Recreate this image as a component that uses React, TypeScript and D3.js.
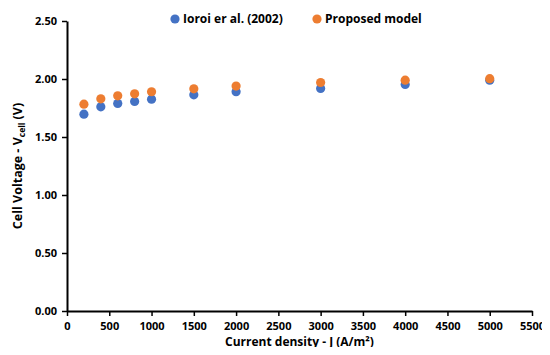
import React, { useEffect, useRef } from 'react';
import * as d3 from 'd3';

const currentDensity = [200, 400, 600, 800, 1000, 1500, 2000, 3000, 4000, 5000];
const ioroiVoltage = [1.697, 1.76, 1.789, 1.807, 1.826, 1.864, 1.89, 1.919, 1.953, 1.99];
const modelVoltage = [1.783, 1.829, 1.855, 1.872, 1.89, 1.915, 1.939, 1.97, 1.99, 2.003];
const seriesNames = ['Ioroi er al. (2002)', 'Proposed model'];
const seriesColors = ['#4472C4', '#ED7D31'];
const xTicks = d3.range(0, 5501, 500);
const yTicks = [0, 0.5, 1, 1.5, 2, 2.5];

const W = 550;
const H = 355;

export default function App() {
  const ref = useRef<SVGSVGElement>(null);

  useEffect(() => {
    const margin = { top: 21, right: 18, bottom: 44, left: 67 };
    const width = W - margin.left - margin.right;
    const height = H - margin.top - margin.bottom;

    const svg = d3.select(ref.current);
    svg.selectAll('*').remove();
    const font = "'Open Sans', sans-serif";

    const x = d3.scaleLinear().domain([0, 5500]).range([0, width]);
    const y = d3.scaleLinear().domain([0, 2.5]).range([height, 0]);

    const g = svg.append('g').attr('transform', `translate(${margin.left},${margin.top})`);

    // x axis
    const xa = g.append('g')
      .attr('transform', `translate(0,${height})`)
      .call(d3.axisBottom(x).tickValues(xTicks).tickSize(5).tickSizeOuter(0).tickPadding(6).tickFormat(d3.format('d')));
    // y axis
    const ya = g.append('g')
      .call(d3.axisLeft(y).tickValues(yTicks).tickSize(5).tickSizeOuter(0).tickPadding(5).tickFormat(d3.format('.2f')));

    [xa, ya].forEach(a => {
      a.select('.domain').attr('stroke', '#000').attr('stroke-width', 2);
      a.selectAll('.tick line').attr('stroke', '#000').attr('stroke-width', 1.5);
      a.selectAll('.tick text')
        .attr('fill', '#000')
        .style('font-family', font)
        .style('font-weight', 'bold')
        .style('font-size', '11px');
    });

    const series = [ioroiVoltage, modelVoltage];
    series.forEach((vals, si) => {
      g.append('g').selectAll('circle')
        .data(vals)
        .enter().append('circle')
        .attr('cx', (d, i) => x(currentDensity[i]))
        .attr('cy', d => y(d))
        .attr('r', 4.6)
        .attr('fill', seriesColors[si]);
    });

    // legend
    const legendX = [175, 317];
    seriesNames.forEach((name, i) => {
      const lg = svg.append('g').attr('transform', `translate(${legendX[i]},19)`);
      lg.append('circle').attr('r', 4.6).attr('fill', seriesColors[i]);
      lg.append('text')
        .attr('x', 8)
        .attr('dy', '0.35em')
        .style('font-family', font)
        .style('font-weight', 'bold')
        .style('font-size', '12px')
        .text(name);
    });

    // axis titles
    svg.append('text')
      .attr('x', margin.left + width / 2)
      .attr('y', 346)
      .attr('text-anchor', 'middle')
      .style('font-family', font)
      .style('font-weight', 'bold')
      .style('font-size', '12px')
      .text('Current density - J (A/m²)');

    const yt = svg.append('text')
      .attr('transform', `translate(22,${margin.top + height / 2}) rotate(-90)`)
      .attr('text-anchor', 'middle')
      .style('font-family', font)
      .style('font-weight', 'bold')
      .style('font-size', '12.5px');
    yt.append('tspan').text('Cell Voltage - V');
    yt.append('tspan').attr('dy', 3).style('font-size', '8.5px').text('cell');
    yt.append('tspan').attr('dy', -3).text(' (V)');
  }, []);

  return <svg ref={ref} width={W} height={H} style={{ display: 'block', margin: '-8px' }} />;
}
